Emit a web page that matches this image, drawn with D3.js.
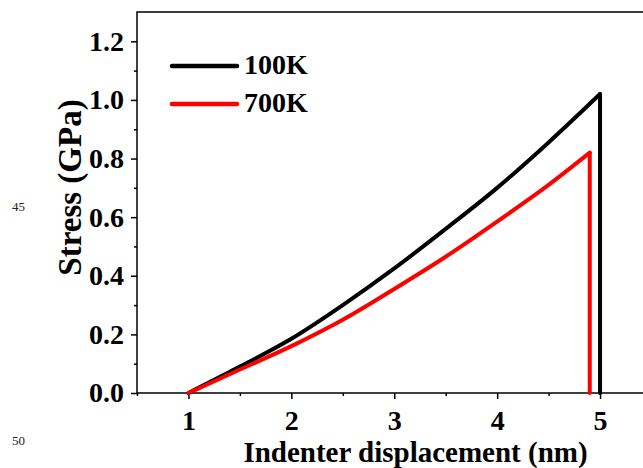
<!DOCTYPE html>
<html>
<head>
<meta charset="utf-8">
<script src="https://cdn.jsdelivr.net/npm/d3@7"></script>
<style>
  body { margin: 0; background: #fff; }
  svg { display: block; }
  text { font-family: "Liberation Serif", "Times New Roman", serif; }
</style>
</head>
<body>
<div id="content"></div>
<script>
// indenter displacement (nm)
const disp100 = [1.0, 1.5, 2.0, 2.5, 3.0, 3.5, 4.0, 4.5, 5.0];
const stress100 = [0, 0.09, 0.185, 0.30, 0.425, 0.56, 0.70, 0.855, 1.02];
const disp700 = [1.0, 1.5, 2.0, 2.5, 3.0, 3.5, 4.0, 4.5, 4.9];
const stress700 = [0, 0.08, 0.16, 0.25, 0.355, 0.465, 0.585, 0.71, 0.82];

const seriesNames = ['100K', '700K'];
const seriesColors = ['#000000', '#ff0000'];

const xTicks = [1, 2, 3, 4, 5];
const xMinor = [0.5, 1.5, 2.5, 3.5, 4.5, 5.5];
const yTicks = [0.0, 0.2, 0.4, 0.6, 0.8, 1.0, 1.2];
const yMinor = [0.1, 0.3, 0.5, 0.7, 0.9, 1.1];

const width = 643, height = 468;
const plotLeft = 137, plotTop = 12, plotBottom = 393;

const svg = d3.select('#content').append('svg')
    .attr('width', width)
    .attr('height', height);

const x = d3.scaleLinear().domain([0.5, 5.5]).range([plotLeft, plotLeft + 5 * 102.9]);
const y = d3.scaleLinear().domain([0, 1.3]).range([plotBottom, plotTop]);

// frame
svg.append('rect')
    .attr('x', x(0.5)).attr('y', y(1.3))
    .attr('width', x(5.5) - x(0.5)).attr('height', y(0) - y(1.3))
    .attr('fill', 'none').attr('stroke', '#000').attr('stroke-width', 1.5);

// x axis
svg.append('g')
    .attr('transform', `translate(0,${plotBottom})`)
    .call(d3.axisBottom(x).tickValues(xTicks).tickSize(6).tickPadding(11).tickFormat(d3.format('d')));
svg.append('g')
    .attr('transform', `translate(0,${plotBottom})`)
    .call(d3.axisBottom(x).tickValues(xMinor).tickSize(3).tickFormat(''));

// y axis
svg.append('g')
    .attr('transform', `translate(${plotLeft},0)`)
    .call(d3.axisLeft(y).tickValues(yTicks).tickSize(6).tickPadding(7).tickFormat(d3.format('.1f')));
svg.append('g')
    .attr('transform', `translate(${plotLeft},0)`)
    .call(d3.axisLeft(y).tickValues(yMinor).tickSize(3).tickFormat(''));

svg.selectAll('.domain').remove();
svg.selectAll('.tick line').attr('stroke', '#000').attr('stroke-width', 1.5);
svg.selectAll('.tick text')
    .attr('fill', '#000')
    .style('font-family', '"Liberation Serif", serif')
    .style('font-weight', 'bold')
    .style('font-size', '28px');

// axis titles
svg.append('text')
    .attr('x', 415.5).attr('y', 462)
    .attr('text-anchor', 'middle')
    .style('font-weight', 'bold').style('font-size', '29px')
    .text('Indenter displacement (nm)');

svg.append('text')
    .attr('transform', 'translate(81,187.5) rotate(-90)')
    .attr('text-anchor', 'middle')
    .style('font-weight', 'bold').style('font-size', '33px')
    .text('Stress (GPa)');

// curves
const line = d3.line()
    .x(d => x(d[0]))
    .y(d => y(d[1]))
    .curve(d3.curveMonotoneX);
const drop = d3.line()
    .x(d => x(d[0]))
    .y(d => y(d[1]));

const series = [
    d3.zip(disp100, stress100),
    d3.zip(disp700, stress700)
];

series.forEach((pts, i) => {
    const last = pts[pts.length - 1];
    svg.append('path')
        .attr('d', line(pts))
        .attr('fill', 'none')
        .attr('stroke', seriesColors[i])
        .attr('stroke-width', 4)
        .attr('stroke-linecap', 'round')
        .attr('stroke-linejoin', 'round');
    svg.append('path')
        .attr('d', drop([last, [last[0], 0]]))
        .attr('fill', 'none')
        .attr('stroke', seriesColors[i])
        .attr('stroke-width', 4)
        .attr('stroke-linecap', 'round');
});

// legend
const legend = svg.append('g');
seriesNames.forEach((name, i) => {
    const ly = 66 + i * 38;
    legend.append('line')
        .attr('x1', 172).attr('x2', 237)
        .attr('y1', ly).attr('y2', ly)
        .attr('stroke', seriesColors[i])
        .attr('stroke-width', 4.5)
        .attr('stroke-linecap', 'round');
    legend.append('text')
        .attr('x', 244).attr('y', ly + 8)
        .style('font-weight', 'bold').style('font-size', '28px')
        .attr('fill', '#000')
        .text(name);
});

// manuscript line numbers
svg.append('text').attr('x', 12).attr('y', 211)
    .style('font-size', '13px').attr('fill', '#222').text('45');
svg.append('text').attr('x', 12).attr('y', 445)
    .style('font-size', '13px').attr('fill', '#222').text('50');
</script>
</body>
</html>
